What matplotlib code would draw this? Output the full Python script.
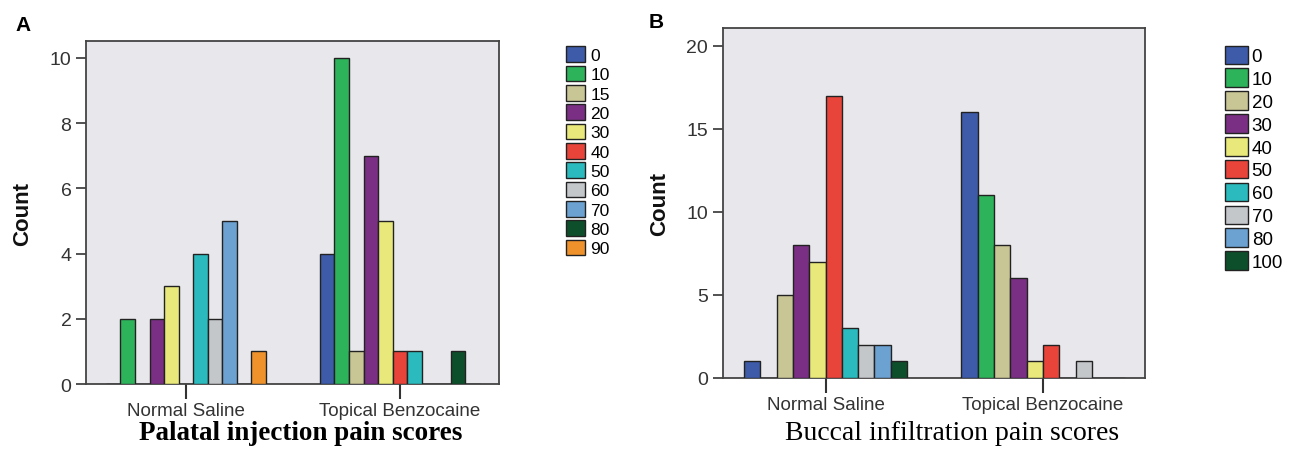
import matplotlib
matplotlib.use('Agg')
import matplotlib.pyplot as plt
import numpy as np

# --- data ---
groups = ['Normal Saline', 'Topical Benzocaine']

scores_a = ['0', '10', '15', '20', '30', '40', '50', '60', '70', '80', '90']
saline_a = [0, 2, 0, 2, 3, 0, 4, 2, 5, 0, 1]
benzo_a = [4, 10, 1, 7, 5, 1, 1, 0, 0, 1, 0]
colors_a = ['#3E5BA9', '#2DB35A', '#C9C695', '#7B2F84', '#E8E97A', '#E8443A',
            '#2BBABD', '#C4C7CA', '#6BA2D2', '#0D4F2B', '#F0922B']

scores_b = ['0', '10', '20', '30', '40', '50', '60', '70', '80', '100']
saline_b = [1, 0, 5, 8, 7, 17, 3, 2, 2, 1]
benzo_b = [16, 11, 8, 6, 1, 2, 0, 1, 0, 0]
colors_b = ['#3E5BA9', '#2DB35A', '#C9C695', '#7B2F84', '#E8E97A', '#E8443A',
            '#2BBABD', '#C4C7CA', '#6BA2D2', '#0D4F2B']

plt.rcParams['font.family'] = ['Liberation Sans', 'DejaVu Sans']

fig = plt.figure(figsize=(12.97, 4.6), dpi=100)


def draw_panel(ax, labels, saline, benzo, colors, bw, ylim, yticks):
    n = len(labels)
    x = np.arange(len(groups))
    offs = (np.arange(n) - (n - 1) / 2) * bw
    for i in range(n):
        vals = [saline[i], benzo[i]]
        ax.bar(x + offs[i], vals, width=bw, color=colors[i], edgecolor='#222222',
               linewidth=1.0, label=labels[i], zorder=3)
    ax.set_facecolor('#E8E8EC')
    ax.set_ylim(0, ylim)
    ax.set_yticks(yticks)
    ax.set_xticks(x)
    ax.set_xticklabels(groups, fontsize=13.5, color='#333333')
    ax.tick_params(axis='y', labelsize=14, colors='#333333', length=7, width=1.2)
    ax.tick_params(axis='x', length=11, width=1.5, pad=2, colors='#333333')
    for s in ax.spines.values():
        s.set_color('#444444')
        s.set_linewidth(1.3)
    ax.set_ylabel('Count', fontsize=16, fontweight='bold', color='#111111', labelpad=12)


ax_a = fig.add_axes([0.0663, 0.163, 0.3184, 0.7457])
draw_panel(ax_a, scores_a, saline_a, benzo_a, colors_a, 0.068, 10.52, [0, 2, 4, 6, 8, 10])
ax_a.set_xlim(-0.467, 1.463)
ax_a.legend(loc='upper left', bbox_to_anchor=(0.431, 0.912), bbox_transform=fig.transFigure,
            frameon=False, fontsize=12.5, handlelength=1.1, handleheight=1.0,
            handletextpad=0.3, labelspacing=0.15, borderaxespad=0)

ax_b = fig.add_axes([0.5572, 0.1761, 0.3256, 0.7609])
draw_panel(ax_b, scores_b, saline_b, benzo_b, colors_b, 0.075, 21.08, [0, 5, 10, 15, 20])
ax_b.set_xlim(-0.473, 1.469)
ax_b.legend(loc='upper left', bbox_to_anchor=(0.939, 0.915), bbox_transform=fig.transFigure,
            frameon=False, fontsize=13.5, handlelength=1.2, handleheight=1.15,
            handletextpad=0.2, labelspacing=0.17, borderaxespad=0)

fig.text(0.232, 0.058, 'Palatal injection pain scores', ha='center', va='center',
         family=['Liberation Serif', 'DejaVu Serif'], fontweight='bold', fontsize=19.5)
fig.text(0.734, 0.057, 'Buccal infiltration pain scores', ha='center', va='center',
         family=['Liberation Serif', 'DejaVu Serif'], fontsize=20)

fig.text(0.012, 0.945, 'A', fontsize=15, fontweight='bold', ha='left', va='center')
fig.text(0.500, 0.950, 'B', fontsize=15, fontweight='bold', ha='left', va='center')

fig.savefig('out.png', dpi=100, facecolor='white')
